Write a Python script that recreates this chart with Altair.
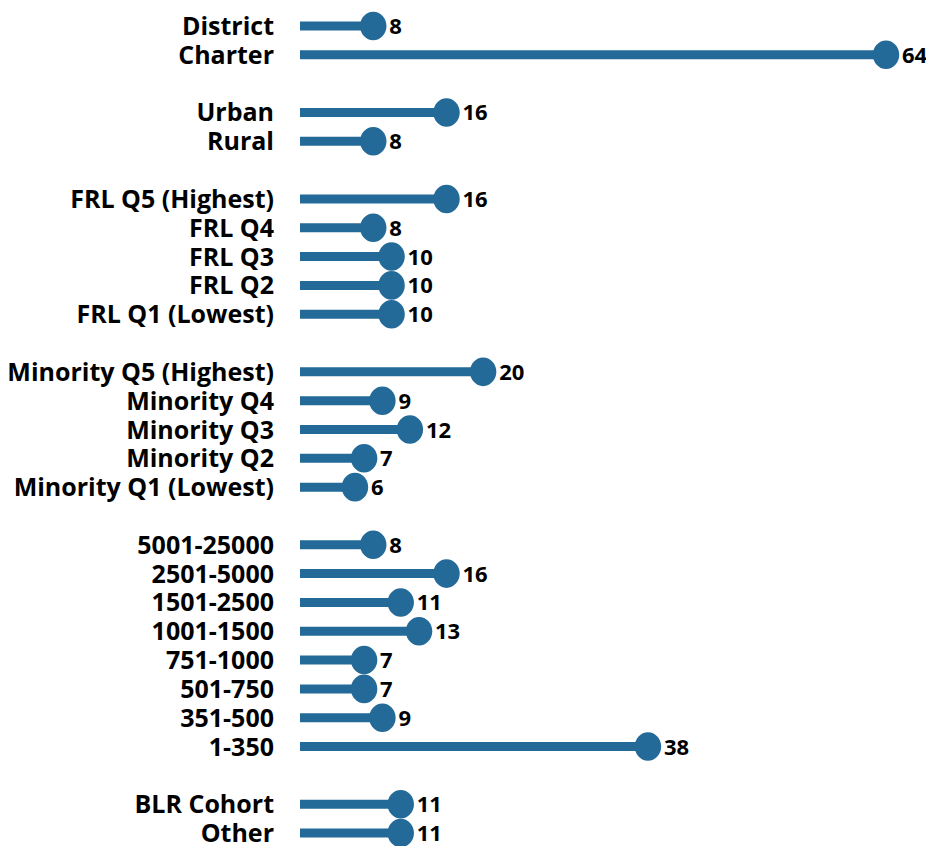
import altair as alt
import pandas as pd

labels = ["District", "Charter", "",
          "Urban", "Rural", "",
          "FRL Q5 (Highest)", "FRL Q4", "FRL Q3", "FRL Q2", "FRL Q1 (Lowest)", "",
          "Minority Q5 (Highest)", "Minority Q4", "Minority Q3", "Minority Q2", "Minority Q1 (Lowest)", "",
          "5001-25000", "2501-5000", "1501-2500", "1001-1500", "751-1000", "501-750", "351-500", "1-350", "",
          "BLR Cohort", "Other"]
values = [8, 64, None,
          16, 8, None,
          16, 8, 10, 10, 10, None,
          20, 9, 12, 7, 6, None,
          8, 16, 11, 13, 7, 7, 9, 38, None,
          11, 11]

rows = [{"row": i, "label": l, "value": v} for i, (l, v) in enumerate(zip(labels, values)) if l]
df = pd.DataFrame(rows)

COLOR = "#236a98"
FONT = "Open Sans"
ELLIPSE = ("M1,0C1,0.596,0.552,1.08,0,1.08C-0.552,1.08,-1,0.596,-1,0"
           "C-1,-0.596,-0.552,-1.08,0,-1.08C0.552,-1.08,1,-0.596,1,0Z")

x = alt.X("value:Q", scale=alt.Scale(domain=[0, 64], nice=False, zero=True), axis=None)
x0 = alt.X("zero:Q", scale=alt.Scale(domain=[0, 64], nice=False), axis=None)
y = alt.Y("row:Q", scale=alt.Scale(domain=[0, 28], nice=False, zero=False, reverse=True), axis=None)

base = alt.Chart(df).transform_calculate(zero="0")

bars = base.mark_bar(color=COLOR, height=9).encode(x=x0, x2="value:Q", y=y)
dots = base.mark_point(color=COLOR, filled=True, shape=ELLIPSE, size=700, opacity=1,
                       strokeWidth=0).encode(x=x, y=y)
vals = base.mark_text(align="left", baseline="middle", dx=16, dy=1, font=FONT,
                      fontWeight="bold", fontSize=22, color="black").encode(
    x=x, y=y, text="value:Q")
labs = base.mark_text(align="right", baseline="middle", dx=-26, dy=1, font=FONT,
                      fontWeight="bold", fontSize=25, color="black").encode(
    x=x0, y=y, text="label:N")

chart = alt.layer(bars, dots, vals, labs).properties(
    width=586, height=817,
    autosize=alt.AutoSizeParams(type="none"),
    padding={"left": 292, "top": 13, "right": 40, "bottom": 17},
).configure_view(stroke=None)

chart.save("out.html", embed_options={"renderer": "svg", "actions": False})
